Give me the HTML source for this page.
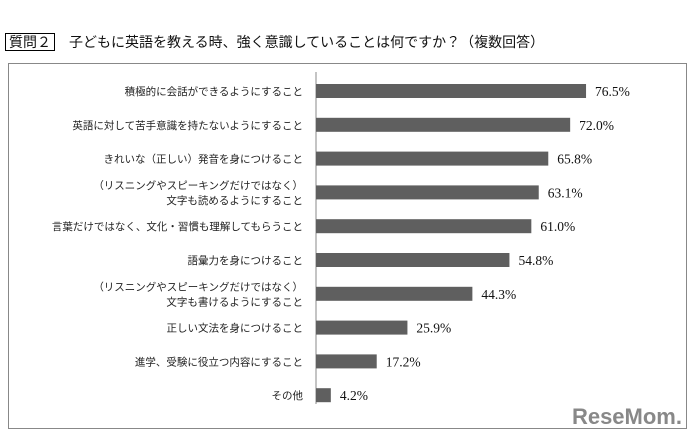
<!DOCTYPE html>
<html><head><meta charset="utf-8"><style>
body{margin:0;background:#fff;width:697px;height:437px;overflow:hidden;position:relative;font-family:"Liberation Sans","Noto Sans CJK JP",sans-serif}
#title{position:absolute;left:5px;top:32px;font-size:14px;font-weight:normal;color:#111;white-space:nowrap}
#title span.box{border:1.5px solid #000;padding:0 3px;margin-right:14px}
#frame{position:absolute;left:8px;top:63px;width:679px;height:366px;border:1px solid #888;box-sizing:border-box}
svg{position:absolute;left:0;top:0}
</style></head><body>
<div id="title"><span class="box">質問２</span>子どもに英語を教える時、強く意識していることは何ですか？（複数回答）</div>
<div id="frame"></div>
<svg id="chart" width="697" height="437"></svg>
<script>
const categories=[["積極的に会話ができるようにすること"],["英語に対して苦手意識を持たないようにすること"],["きれいな（正しい）発音を身につけること"],["（リスニングやスピーキングだけではなく）","文字も読めるようにすること"],["言葉だけではなく、文化・習慣も理解してもらうこと"],["語彙力を身につけること"],["（リスニングやスピーキングだけではなく）","文字も書けるようにすること"],["正しい文法を身につけること"],["進学、受験に役立つ内容にすること"],["その他"]];
const values=[76.5,72.0,65.8,63.1,61.0,54.8,44.3,25.9,17.2,4.2];
const valueLabels=["76.5%","72.0%","65.8%","63.1%","61.0%","54.8%","44.3%","25.9%","17.2%","4.2%"];
const NS="http://www.w3.org/2000/svg";
const svg=document.getElementById('chart');
const x0=316,pxPer=3.53,y0=91,step=33.8,bh=14;
const xs=v=>x0+v*pxPer;
const ys=i=>y0+i*step;
function mk(t,a){const e=document.createElementNS(NS,t);for(const k in a)e.setAttribute(k,a[k]);svg.appendChild(e);return e;}
const ax=mk('line',{x1:x0,x2:x0,y1:72,y2:404,stroke:'#888','stroke-width':1});


values.forEach((v,i)=>{
  const r=mk('rect',{x:x0,y:ys(i)-bh/2,width:xs(v)-x0,height:bh,fill:'#5f5f5f'});
  
  
  const t=mk('text',{x:xs(v)+9,y:ys(i)+5,'font-size':13.5,'font-family':'"Liberation Serif",serif',fill:'#111'});
  t.textContent=valueLabels[i];
  
  
  const lines=categories[i];
  lines.forEach((s,j)=>{
    const c=mk('text',{x:303,y:ys(i)+4+(j-(lines.length-1)/2)*15,'font-size':10.5,'text-anchor':'end',fill:'#222'});
    c.textContent=s;
    
    
  });
});
const lg=mk('text',{x:682,y:424,'font-size':22,'font-weight':'bold','text-anchor':'end',fill:'#888'});
lg.textContent='ReseMom.';


</script>
</body></html>
